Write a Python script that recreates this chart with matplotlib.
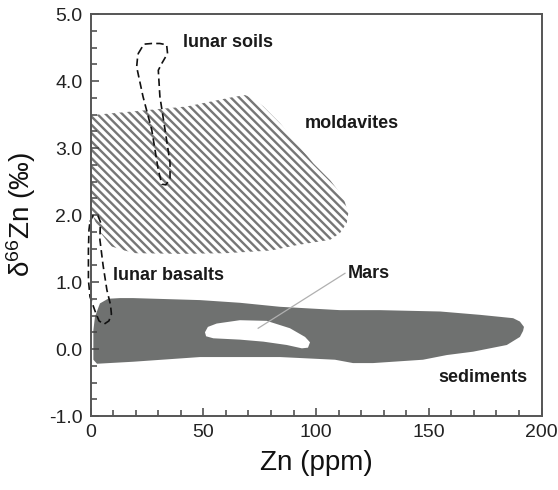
import numpy as np
import matplotlib
matplotlib.use("Agg")
import matplotlib.pyplot as plt
from matplotlib.patches import Polygon

plt.rcParams['font.family'] = ['Liberation Sans', 'DejaVu Sans']
plt.rcParams['mathtext.fontset'] = 'custom'
plt.rcParams['mathtext.rm'] = 'Liberation Sans'
plt.rcParams['axes.unicode_minus'] = False
plt.rcParams['hatch.linewidth'] = 1.7

# field outlines, Zn (ppm) vs d66Zn (permil)
mold_x = [0, 20, 42.6, 63, 68.5, 72, 76.6, 84, 91.4, 98.8, 106.2, 112, 114.3, 113.6,
          110.6, 106.2, 91.4, 80, 60, 40, 20, 15, 9.3, 4, 0.4, 0]
mold_y = [3.49, 3.55, 3.62, 3.76, 3.79, 3.74, 3.62, 3.37, 3.07, 2.77, 2.52, 2.27, 2.03, 1.88,
          1.73, 1.63, 1.55, 1.47, 1.43, 1.42, 1.43, 1.47, 1.53, 1.75, 2.03, 2.2]

sed_x = [1.2, 1.2, 1.9, 4.1, 7.7, 13, 18.8, 48.5, 66.2, 84, 110.6, 128.4, 155, 172.7, 181.6,
         187.4, 190.4, 192.2, 191.8, 190.4, 184.6, 180.1, 169.6, 158, 147.4, 125.2, 116.4,
         108.4, 84, 48.5, 18.8, 2.8]
sed_y = [-0.16, 0.28, 0.48, 0.68, 0.75, 0.76, 0.76, 0.73, 0.69, 0.63, 0.58, 0.58, 0.56, 0.51, 0.48,
         0.46, 0.41, 0.33, 0.27, 0.18, 0.06, 0.03, -0.04, -0.09, -0.16, -0.21, -0.21,
         -0.16, -0.12, -0.12, -0.19, -0.22]

mars_x = [50.7, 52.0, 55.9, 66.2, 78.1, 88.4, 95.1, 97.3, 96.4, 93.7, 87, 76.6, 66.2, 54.4, 51.2]
mars_y = [0.25, 0.33, 0.38, 0.43, 0.42, 0.31, 0.18, 0.10, 0.02, 0.01, 0.06, 0.11, 0.14, 0.16, 0.19]

soil_x = [21.1, 23.6, 27.1, 30.7, 33.7, 34.1, 31.5, 30.0, 30.7, 33.0, 35.2, 35.2, 33.4, 31.6,
          30.0, 27.1, 23.2, 20.4, 20.9]
soil_y = [4.41, 4.55, 4.56, 4.56, 4.54, 4.41, 4.26, 4.16, 3.77, 3.27, 2.78, 2.55, 2.45, 2.46,
          2.67, 3.27, 3.77, 4.21, 4.39]

bas_x = [-0.3, 1.0, 3.2, 4.3, 4.1, 5.5, 7.2, 8.8, 9.2, 8.1, 5.9, 3.7, 1.9, -0.3, -1.0, -1.0, -0.75]
bas_y = [1.90, 1.99, 1.99, 1.90, 1.63, 1.25, 0.88, 0.66, 0.52, 0.42, 0.37, 0.42, 0.57, 0.78,
         1.03, 1.48, 1.78]

mars_line_x = [74.3, 112.8]
mars_line_y = [0.31, 1.13]

fig = plt.figure(figsize=(5.58, 4.9), dpi=100)
ax = fig.add_axes([0.1625, 0.151, 0.808, 0.8204])

ax.add_patch(Polygon(np.column_stack([mold_x, mold_y]), closed=True, facecolor='white',
                     edgecolor='#767676', hatch='\\' * 4, linewidth=0))
ax.add_patch(Polygon(np.column_stack([sed_x, sed_y]), closed=True, facecolor='#6f7170',
                     edgecolor='none'))
ax.add_patch(Polygon(np.column_stack([mars_x, mars_y]), closed=True, facecolor='white',
                     edgecolor='none'))

ax.plot(soil_x + soil_x[:1], soil_y + soil_y[:1], color='#111111', lw=1.2, dashes=(4.5, 2.5))
ax.plot(bas_x + bas_x[:1], bas_y + bas_y[:1], color='#111111', lw=1.2, dashes=(4.5, 2.5),
        clip_on=False)
ax.plot(mars_line_x, mars_line_y, color='#b0b0b0', lw=0.9)

lab = dict(fontsize=13, fontweight='bold', color='#1a1a1a', va='center', ha='left')
ax.text(40.8, 4.57, 'lunar soils', **lab)
ax.text(95.1, 3.37, 'moldavites', **lab)
ax.text(10.0, 1.10, 'lunar basalts', **lab)
ax.text(114.2, 1.13, 'Mars', **lab)
ax.text(154.1, -0.43, 'sediments', **lab)

ax.set_xlim(0, 200)
ax.set_ylim(-1, 5)
ax.set_xticks([0, 50, 100, 150, 200])
ax.set_xticks(np.arange(0, 201, 10), minor=True)
ax.set_yticks(np.arange(-1, 5.01, 1))
ax.set_yticks(np.arange(-1, 5.01, 0.25), minor=True)
ax.set_yticklabels(['%.1f' % v for v in np.arange(-1, 5.01, 1)])
ax.tick_params(which='both', direction='in', colors='#444444', labelcolor='#222222',
               labelsize=14, width=1.1)
ax.tick_params(which='major', length=6, pad=6)
ax.tick_params(which='minor', length=4)
for s in ax.spines.values():
    s.set_color('#555555')
    s.set_linewidth(1.4)

ax.set_xlabel('Zn (ppm)', fontsize=20, color='#111111', labelpad=6)
ax.set_ylabel(r'$\mathregular{\delta^{66}}$Zn (‰)', fontsize=20, color='#111111', labelpad=8)

fig.savefig('out.png', dpi=100, facecolor='white')
